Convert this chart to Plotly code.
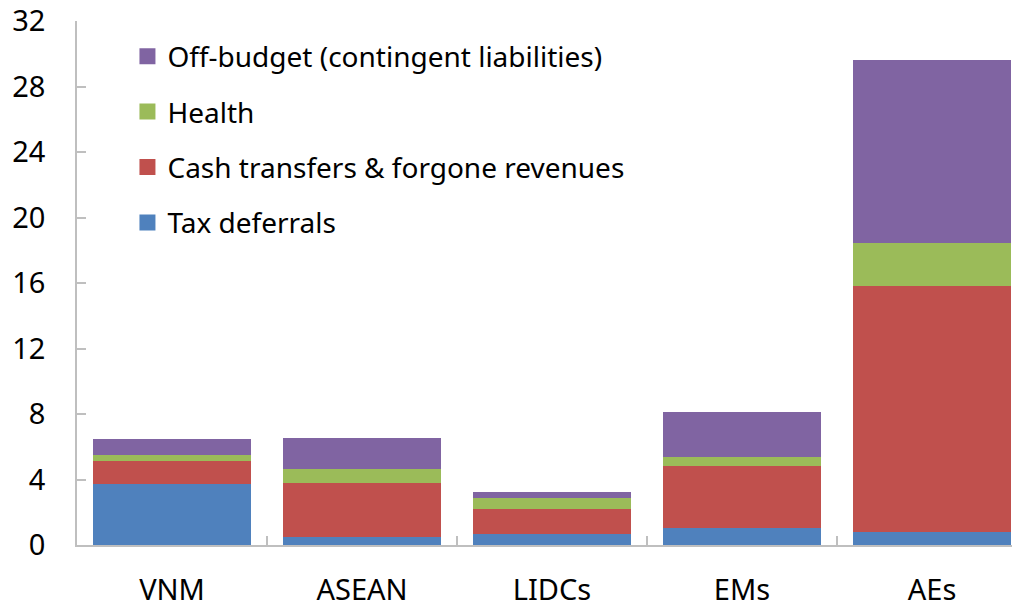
import plotly.graph_objects as go

categories = ["VNM", "ASEAN", "LIDCs", "EMs", "AEs"]
tax_deferrals = [3.71, 0.47, 0.67, 1.06, 0.78]
cash_transfers = [1.41, 3.31, 1.55, 3.76, 15.03]
health = [0.39, 0.84, 0.64, 0.57, 2.61]
off_budget = [0.96, 1.90, 0.40, 2.74, 11.20]

series_names = ["Tax deferrals", "Cash transfers & forgone revenues", "Health",
                "Off-budget (contingent liabilities)"]
series_values = [tax_deferrals, cash_transfers, health, off_budget]
colors = ["#4F81BD", "#C0504D", "#9BBB59", "#8064A2"]

y_ticks = [0, 4, 8, 12, 16, 20, 24, 28, 32]

FONT = "Noto Sans"

fig = go.Figure()
for name, vals, col in zip(series_names, series_values, colors):
    fig.add_trace(go.Bar(x=categories, y=vals, name=name, marker_color=col,
                         marker_line_width=0, showlegend=False))
# legend entries, top to bottom: reverse of stacking order
for i, (name, col) in enumerate(reversed(list(zip(series_names, colors)))):
    fig.add_trace(go.Scatter(x=[None], y=[None], mode="markers", name=name,
                             marker=dict(symbol="square", size=18, color=col),
                             legendgroup="g%d" % i, showlegend=True))

# the page body has an 8px margin; the figure is sized to fit inside the window
fig.update_layout(
    width=1012, height=595,
    margin=dict(l=69, r=0, t=13, b=58, autoexpand=False),
    barmode="stack", bargap=0.17,
    plot_bgcolor="white", paper_bgcolor="white",
    font=dict(family=FONT, size=28, color="#000000"),
    showlegend=True,
    legend=dict(x=0.0535, y=0.98, xanchor="left", yanchor="top",
                traceorder="grouped", tracegroupgap=16,
                font=dict(family=FONT, size=28, color="#000000"),
                bgcolor="rgba(0,0,0,0)", itemwidth=30),
)
fig.update_xaxes(range=[-0.5, 4.463], showline=True, linecolor="#BFBFBF", linewidth=1.5,
                 ticks="inside", tickson="boundaries", ticklen=9, tickcolor="#BFBFBF",
                 tickwidth=1.5, tickfont=dict(family=FONT, size=29), ticklabelstandoff=18,
                 ticklabeloverflow="allow",
                 showgrid=False, zeroline=False, fixedrange=True, automargin=False)
fig.update_yaxes(range=[0, 32], tickvals=y_ticks, ticktext=[str(v) for v in y_ticks],
                 showline=True, linecolor="#BFBFBF", linewidth=1.5,
                 ticks="inside", ticklen=9, tickcolor="#BFBFBF", tickwidth=1.5,
                 tickfont=dict(family=FONT, size=29), ticklabelstandoff=24,
                 ticklabeloverflow="allow",
                 showgrid=False, zeroline=False, fixedrange=True, automargin=False)

fig.write_html("out.html")
